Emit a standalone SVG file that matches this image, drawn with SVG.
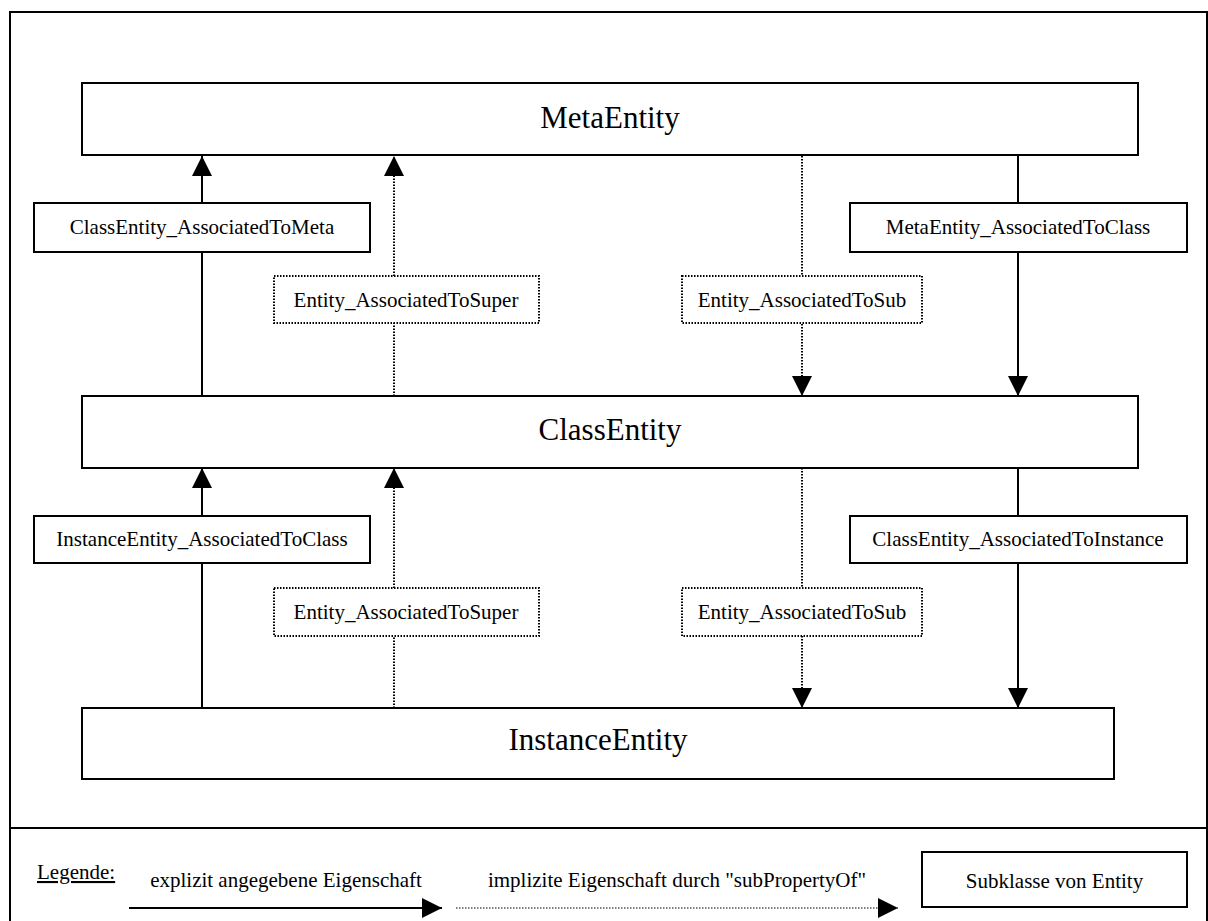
<svg xmlns="http://www.w3.org/2000/svg" width="1208" height="921" viewBox="0 0 1208 921">
  <style>
    .frame { fill: none; stroke: #000; stroke-width: 2; }
    .box { fill: #fff; stroke: #000; stroke-width: 2; }
    .dbox { fill: #fff; stroke: #000; stroke-width: 2; stroke-dasharray: 1.5 1.5; }
    .solid { fill: none; stroke: #000; stroke-width: 2; }
    .dotted { fill: none; stroke: #000; stroke-width: 2; stroke-dasharray: 1.5 1.5; }
    .dotted-thin { fill: none; stroke: #000; stroke-width: 1.2; stroke-dasharray: 1.5 1.5; }
    text { font-family: "Liberation Serif", "Times New Roman", serif; fill: #000; }
    .title { font-size: 31px; text-anchor: middle; }
    .label { font-size: 21px; text-anchor: middle; }
    .legend { font-size: 21px; }
  </style>
  <defs>
    <marker id="head" viewBox="0 0 20 20" markerUnits="userSpaceOnUse" markerWidth="20" markerHeight="20" refX="20" refY="10" orient="auto">
      <path d="M0,0 L20,10 L0,20 Z" fill="#000"/>
    </marker>
  </defs>

  <rect width="1208" height="921" fill="#fff"/>

  <!-- outer frame with legend divider -->
  <g id="frame">
    <path class="frame" d="M10,940 V12 H1207 V940"/>
    <line class="frame" x1="10" y1="828" x2="1208" y2="828"/>
  </g>

  <!-- connectors -->
  <g id="connectors">
    <!-- ClassEntity -> MetaEntity -->
    <line class="solid" x1="202" y1="396" x2="202" y2="156" marker-end="url(#head)"/>
    <line class="dotted" x1="394" y1="396" x2="394" y2="156" marker-end="url(#head)"/>
    <!-- MetaEntity -> ClassEntity -->
    <line class="dotted" x1="802" y1="156" x2="802" y2="396" marker-end="url(#head)"/>
    <line class="solid" x1="1018" y1="156" x2="1018" y2="396" marker-end="url(#head)"/>
    <!-- InstanceEntity -> ClassEntity -->
    <line class="solid" x1="202" y1="708" x2="202" y2="468" marker-end="url(#head)"/>
    <line class="dotted" x1="394" y1="708" x2="394" y2="468" marker-end="url(#head)"/>
    <!-- ClassEntity -> InstanceEntity -->
    <line class="dotted" x1="802" y1="468" x2="802" y2="708" marker-end="url(#head)"/>
    <line class="solid" x1="1018" y1="468" x2="1018" y2="708" marker-end="url(#head)"/>
  </g>

  <!-- main entities -->
  <g id="MetaEntity">
    <rect class="box" x="82" y="83" width="1056" height="72"/>
    <text class="title" x="610" y="128">MetaEntity</text>
  </g>
  <g id="ClassEntity">
    <rect class="box" x="82" y="396" width="1056" height="72"/>
    <text class="title" x="610" y="440">ClassEntity</text>
  </g>
  <g id="InstanceEntity">
    <rect class="box" x="82" y="708" width="1032" height="71"/>
    <text class="title" x="598" y="750">InstanceEntity</text>
  </g>

  <!-- property labels, upper row -->
  <g id="ClassEntity_AssociatedToMeta">
    <rect class="box" x="34" y="203" width="336" height="49"/>
    <text class="label" x="202" y="234">ClassEntity_AssociatedToMeta</text>
  </g>
  <g id="Entity_AssociatedToSuper_1">
    <rect class="dbox" x="274" y="276" width="265" height="47"/>
    <text class="label" x="406" y="307">Entity_AssociatedToSuper</text>
  </g>
  <g id="Entity_AssociatedToSub_1">
    <rect class="dbox" x="682" y="276" width="240" height="47"/>
    <text class="label" x="802" y="307">Entity_AssociatedToSub</text>
  </g>
  <g id="MetaEntity_AssociatedToClass">
    <rect class="box" x="850" y="203" width="337" height="49"/>
    <text class="label" x="1018" y="234">MetaEntity_AssociatedToClass</text>
  </g>

  <!-- property labels, lower row -->
  <g id="InstanceEntity_AssociatedToClass">
    <rect class="box" x="34" y="516" width="336" height="47"/>
    <text class="label" x="202" y="546">InstanceEntity_AssociatedToClass</text>
  </g>
  <g id="Entity_AssociatedToSuper_2">
    <rect class="dbox" x="274" y="588" width="265" height="48"/>
    <text class="label" x="406" y="619">Entity_AssociatedToSuper</text>
  </g>
  <g id="Entity_AssociatedToSub_2">
    <rect class="dbox" x="682" y="588" width="240" height="48"/>
    <text class="label" x="802" y="619">Entity_AssociatedToSub</text>
  </g>
  <g id="ClassEntity_AssociatedToInstance">
    <rect class="box" x="850" y="516" width="337" height="47"/>
    <text class="label" x="1018" y="546">ClassEntity_AssociatedToInstance</text>
  </g>

  <!-- legend -->
  <g id="legend">
    <text class="legend" x="37" y="879" text-decoration="underline">Legende:</text>
    <text class="legend" x="286" y="887" text-anchor="middle">explizit angegebene Eigenschaft</text>
    <line class="solid" x1="129" y1="908" x2="442" y2="908" marker-end="url(#head)"/>
    <text class="legend" x="677" y="887" text-anchor="middle">implizite Eigenschaft durch "subPropertyOf"</text>
    <line class="dotted-thin" x1="456" y1="908" x2="898" y2="908" marker-end="url(#head)"/>
    <rect class="box" x="922" y="852" width="265" height="55"/>
    <text class="legend" x="1054.5" y="888" text-anchor="middle">Subklasse von Entity</text>
  </g>
</svg>
